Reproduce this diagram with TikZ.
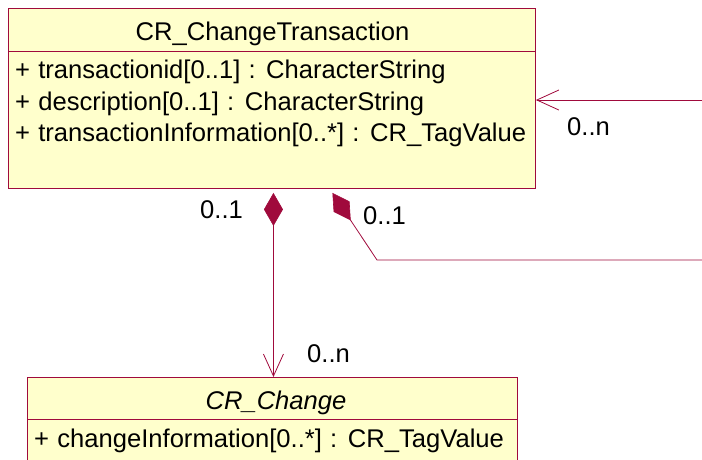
\documentclass[tikz,border=0pt]{standalone}
\usepackage{fontspec}
\setmainfont[WordSpace=1.15]{Liberation Sans}
\usetikzlibrary{arrows.meta}
\definecolor{umlline}{RGB}{160,10,60}
\definecolor{umlfill}{RGB}{255,255,204}
\tikzset{
  comp/.tip={Diamond[length=33pt,width=19pt,fill=umlline,line width=0.6pt]},
  navi/.tip={Straight Barb[length=22pt,width=20pt,line width=0.8pt]}}
\begin{document}
\begin{tikzpicture}[x=1pt,y=-1pt,
  classbox/.style={draw=umlline,fill=umlfill,line width=0.9pt,inner sep=0pt,anchor=north west},
  txt/.style={inner sep=0pt,font=\fontsize{25.6}{28}\selectfont},
  conn/.style={draw=umlline,line width=0.8pt}]
\useasboundingbox (0,0) rectangle (702,459);
\clip (0,0) rectangle (702,459);
% top class
\node[classbox,minimum width=527pt,minimum height=180pt] (ct) at (8,8) {};
\draw[umlline,line width=0.9pt] (ct.west |- 0,51) coordinate (d1) -- (ct.east |- d1);
\node[txt,anchor=base] (ctt) at (272.5,40) {CR\_ChangeTransaction};
\node[txt,anchor=base west] (a1) at (15,78.5) {+ transactionid[0..1] : CharacterString};
\node[txt,anchor=base west] (a2) at (15,110) {+ description[0..1] : CharacterString};
\node[txt,anchor=base west] (a3) at (15,141.5) {+ transactionInformation[0..*] : CR\_TagValue};
% bottom class
\node[classbox,minimum width=490pt,minimum height=120pt] (ch) at (27,377) {};
\draw[umlline,line width=0.9pt] (ch.west |- 0,419) coordinate (d2) -- (ch.east |- d2);
\node[txt,anchor=base] (cht) at (276,409) {\itshape CR\_Change};
\node[txt,anchor=base west] (b1) at (34,447.5) {+ changeInformation[0..*] : CR\_TagValue};
% connectors
\coordinate (r1) at (702,100);
\draw[conn,-{navi}] (r1) -- (r1 -| ct.east);
\node[txt,anchor=base west] (m1) at (567,135) {0..n};
\draw[conn,{comp}-{navi}] ([xshift=1.5pt,yshift=-4pt]ct.south) -- ([xshift=1pt]ch.north);
\node[txt,anchor=base west] (m2) at (200,218) {0..1};
\node[txt,anchor=base west] (m3) at (307,362) {0..n};
\coordinate (r2) at (702,260);
\coordinate (k2) at (377,260);
\draw[conn,{comp}-] ([xshift=60.5pt,yshift=-4pt]ct.south) -- (k2) -- (r2);
\node[txt,anchor=base west] (m4) at (363,224) {0..1};
\end{tikzpicture}
\end{document}
